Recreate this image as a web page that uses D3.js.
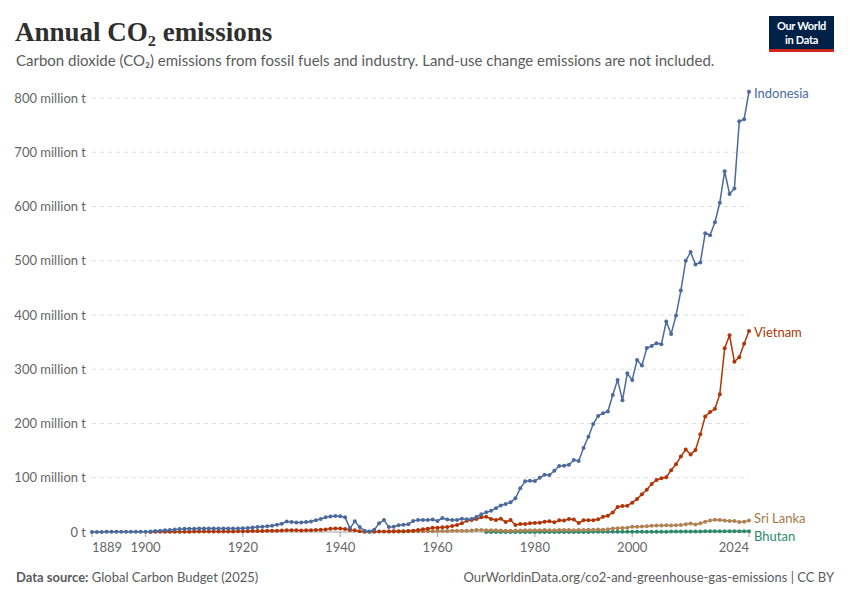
<!DOCTYPE html>
<html>
<head>
<meta charset="utf-8">
<script src="https://cdn.jsdelivr.net/npm/d3@7"></script>
<style>
  body { margin: 0; background: #fff; }
  svg { display: block; font-family: Lato, "Noto Sans", sans-serif; }
</style>
</head>
<body>
<svg id="chart" width="850" height="600"></svg>
<script>
// Annual CO2 emissions, million tonnes
var indonesiaStart = 1889;
var indonesia = [
  0.2, 0.2, 0.2, 0.3, 0.3, 0.3, 0.3, 0.4, 0.4, 0.4, 0.5,
  0.5, 1.0, 1.8, 2.5, 3.0, 3.7, 4.5, 5.3, 5.8, 6.0,
  6.2, 6.3, 6.5, 6.5, 6.4, 6.3, 6.5, 6.6, 6.4, 6.5,
  7.0, 7.5, 8.5, 9.0, 9.8, 10.5, 11.5, 13.5, 15.0, 19.5,
  18.5, 17.5, 17.5, 18.5, 19.5, 21.5, 24.0, 27.0, 28.5, 29.5,
  29.0, 27.0, 6.8, 19.7, 9.0, 2.5, 0.8, 4.0, 16.0, 22.0,
  9.0, 9.8, 12.5, 13.5, 14.5, 20.5, 22.0, 22.0, 22.0, 23.0,
  20.3, 25.8, 23.0, 22.0, 22.0, 24.5, 23.3, 24.0, 27.6, 32.5,
  36.2, 39.0, 44.0, 49.0, 51.6, 54.7, 62.0, 80.5, 93.4, 94.5,
  94.0, 100.0, 105.6, 105.0, 113.0, 121.6, 122.0, 124.0, 132.7, 131.0,
  155, 175.7, 199, 214, 219, 222, 252.5, 280, 243, 292.5,
  280, 317, 307, 339, 343, 348, 346, 388, 365, 399,
  445, 500, 516, 493, 497, 550.6, 547, 571, 607, 665,
  623, 633, 757, 761, 811.6
];

var vietnamStart = 1901;
var vietnam = [
  0.2, 0.3, 0.3, 0.4, 0.4, 0.5, 0.5, 0.6, 0.6,
  0.7, 0.7, 0.8, 0.8, 0.9, 0.9, 1.0, 1.0, 1.1, 1.2,
  1.5, 1.6, 1.7, 1.8, 2.0, 2.1, 2.3, 2.5, 2.8, 3.2,
  3.0, 3.0, 2.8, 3.0, 3.2, 3.5, 4.0, 4.5, 6.0, 6.3,
  6.3, 5.5, 3.7, 3.0, 1.2, 0.6, 0.3, 0.5, 0.8, 1.0,
  1.0, 1.2, 1.5, 1.5, 1.8, 2.5, 3.5, 4.9, 6.0, 8.0,
  8.0, 8.6, 9.0, 11.0, 12.9, 16.0, 20.9, 22.0, 24.0, 27.0,
  28.3, 24.0, 22.0, 24.5, 18.4, 22.0, 12.9, 14.7, 14.7, 16.0,
  16.6, 17.0, 19.0, 19.6, 17.8, 21.5, 21.0, 24.0, 23.0, 16.6,
  21.5, 21.5, 21.5, 23.3, 28.0, 30.0, 36.0, 46.0, 48.0, 48.5,
  54, 61, 69.5, 78, 88.5, 96, 99, 101, 114, 125,
  139, 152, 143, 151, 180, 213, 221, 227, 254, 338.6,
  362.5, 314, 322, 347, 370.5
];

var sriLankaStart = 1950;
var sriLanka = [
  1.0, 1.0, 1.1, 1.1, 1.2, 1.2, 1.3, 1.4, 1.5, 1.6,
  1.8, 1.9, 2.0, 2.1, 2.2, 2.3, 2.5, 2.8, 3.5, 3.8,
  3.3, 3.0, 3.0, 2.8, 2.5, 2.5, 2.6, 2.7, 3.0, 3.2,
  3.4, 3.3, 3.5, 3.4, 3.3, 3.5, 3.6, 3.6, 3.4, 3.5,
  3.8, 4.0, 4.3, 4.5, 4.3, 5.0, 6.5, 7.0, 7.5, 8.0,
  9.5, 9.5, 10, 10.5, 11.5, 12, 12, 12.5, 12, 12.5,
  13, 14.5, 15.5, 14, 16, 19, 21, 22.5, 22, 21,
  20.5, 20.5, 18.5, 19, 21
];

var bhutanStart = 1970;
var bhutan = [
  0.003, 0.003, 0.004, 0.005, 0.006, 0.008, 0.01, 0.01, 0.02, 0.02,
  0.03, 0.04, 0.05, 0.06, 0.07, 0.08, 0.1, 0.12, 0.15, 0.2,
  0.13, 0.2, 0.25, 0.25, 0.3, 0.3, 0.35, 0.35, 0.4, 0.4,
  0.4, 0.45, 0.5, 0.5, 0.55, 0.55, 0.6, 0.6, 0.7, 0.7,
  0.8, 0.9, 1.0, 1.0, 1.1, 1.2, 1.2, 1.3, 1.3, 1.4,
  1.3, 1.4, 1.5, 1.6, 1.6
];

var yTicks = [0, 100, 200, 300, 400, 500, 600, 700, 800];
var xTicks = [1889, 1900, 1920, 1940, 1960, 1980, 2000, 2024];

var series = [
  {name: 'Bhutan', start: bhutanStart, values: bhutan, color: '#2c8a68', text: '#2c8a68'},
  {name: 'Sri Lanka', start: sriLankaStart, values: sriLanka, color: '#b08252', text: '#a5784a'},
  {name: 'Vietnam', start: vietnamStart, values: vietnam, color: '#b13507', text: '#b13507'},
  {name: 'Indonesia', start: indonesiaStart, values: indonesia, color: '#4c6a9c', text: '#4c6a9c'}
];
series.forEach(function(s) {
  s.points = s.values.map(function(v, i) { return {year: s.start + i, value: v}; });
});

var svg = d3.select('#chart');

var x = d3.scaleLinear().domain([1889, 2024]).range([92, 749]);
var y = d3.scaleLinear().domain([0, 800]).range([532, 98]);

// Header
svg.append('text')
    .attr('x', 15).attr('y', 41)
    .attr('font-family', '"Liberation Serif", "DejaVu Serif", serif')
    .attr('font-size', 27)
    .attr('font-weight', 700)
    .attr('fill', '#2f2f2f')
    .text('Annual CO\u2082 emissions');

svg.append('text')
    .attr('x', 16).attr('y', 66)
    .attr('font-size', 15)
    .attr('fill', '#5b5b5b')
    .text('Carbon dioxide (CO\u2082) emissions from fossil fuels and industry. Land-use change emissions are not included.');

// Logo
var logo = svg.append('g');
logo.append('rect').attr('x', 769).attr('y', 16).attr('width', 65).attr('height', 36).attr('fill', '#002147');
logo.append('rect').attr('x', 769).attr('y', 49).attr('width', 65).attr('height', 3).attr('fill', '#ce261e');
logo.append('text').attr('x', 801.5).attr('y', 30).attr('text-anchor', 'middle')
    .attr('font-size', 11).attr('font-weight', 700).attr('fill', '#fff').attr('letter-spacing', -0.3)
    .text('Our World');
logo.append('text').attr('x', 801.5).attr('y', 44).attr('text-anchor', 'middle')
    .attr('font-size', 11).attr('font-weight', 700).attr('fill', '#fff').attr('letter-spacing', -0.3)
    .text('in Data');

// Grid + y labels
var yAxis = svg.append('g');
yAxis.selectAll('line.grid')
    .data(yTicks.filter(function(d) { return d > 0; }))
  .enter().append('line')
    .attr('class', 'grid')
    .attr('x1', 92).attr('x2', 749)
    .attr('y1', function(d) { return y(d); })
    .attr('y2', function(d) { return y(d); })
    .attr('stroke', '#dddddd')
    .attr('stroke-dasharray', '4,4');
yAxis.selectAll('text')
    .data(yTicks)
  .enter().append('text')
    .attr('x', 86)
    .attr('y', function(d) { return y(d); })
    .attr('dy', '0.35em')
    .attr('text-anchor', 'end')
    .attr('font-size', 13)
    .attr('fill', '#666')
    .text(function(d) { return d === 0 ? '0 t' : d + ' million t'; });

// X axis
var xAxis = svg.append('g');
xAxis.append('line')
    .attr('x1', 92).attr('x2', 749)
    .attr('y1', y(0)).attr('y2', y(0))
    .attr('stroke', '#a1a1a1');
xAxis.selectAll('line.tick')
    .data(xTicks)
  .enter().append('line')
    .attr('class', 'tick')
    .attr('x1', function(d) { return x(d); })
    .attr('x2', function(d) { return x(d); })
    .attr('y1', y(0)).attr('y2', y(0) + 5)
    .attr('stroke', '#a1a1a1');
xAxis.selectAll('text')
    .data(xTicks)
  .enter().append('text')
    .attr('x', function(d) { return x(d); })
    .attr('y', 552)
    .attr('text-anchor', function(d, i) {
      return i === 0 ? 'start' : (i === xTicks.length - 1 ? 'end' : 'middle');
    })
    .attr('font-size', 13)
    .attr('fill', '#666')
    .text(String);

// Lines
var line = d3.line()
    .x(function(d) { return x(d.year); })
    .y(function(d) { return y(d.value); });

var g = svg.selectAll('g.series')
    .data(series)
  .enter().append('g')
    .attr('class', 'series');

g.append('path')
    .attr('d', function(s) { return line(s.points); })
    .attr('fill', 'none')
    .attr('stroke', function(s) { return s.color; })
    .attr('stroke-width', 1.5)
    .attr('stroke-linejoin', 'round');

g.selectAll('circle')
    .data(function(s) { return s.points.map(function(p) { return {p: p, c: s.color}; }); })
  .enter().append('circle')
    .attr('cx', function(d) { return x(d.p.year); })
    .attr('cy', function(d) { return y(d.p.value); })
    .attr('r', 2)
    .attr('fill', function(d) { return d.c; });

// End labels, pushed apart where they collide
var labels = series.map(function(s) {
  return {s: s, y: y(s.values[s.values.length - 1]) + 1.5};
}).sort(function(a, b) { return a.y - b.y; });
for (var k = 0; k < 20; k++) {
  for (var i = 1; i < labels.length; i++) {
    var gap = labels[i].y - labels[i - 1].y;
    if (gap < 18) {
      var shift = (18 - gap) / 2;
      labels[i].y += shift;
      labels[i - 1].y -= shift;
    }
  }
}
svg.selectAll('text.label')
    .data(labels)
  .enter().append('text')
    .attr('class', 'label')
    .attr('x', 754)
    .attr('y', function(d) { return d.y; })
    .attr('dy', '0.35em')
    .attr('font-size', 13)
    .attr('fill', function(d) { return d.s.text; })
    .text(function(d) { return d.s.name; });

// Footer
var src = svg.append('text')
    .attr('x', 16).attr('y', 582)
    .attr('font-size', 13)
    .attr('fill', '#5b5b5b');
src.append('tspan').attr('font-weight', 700).text('Data source:');
src.append('tspan').text(' Global Carbon Budget (2025)');

svg.append('text')
    .attr('x', 834).attr('y', 582)
    .attr('text-anchor', 'end')
    .attr('font-size', 13)
    .attr('fill', '#5b5b5b')
    .text('OurWorldinData.org/co2-and-greenhouse-gas-emissions | CC BY');
</script>
</body>
</html>
